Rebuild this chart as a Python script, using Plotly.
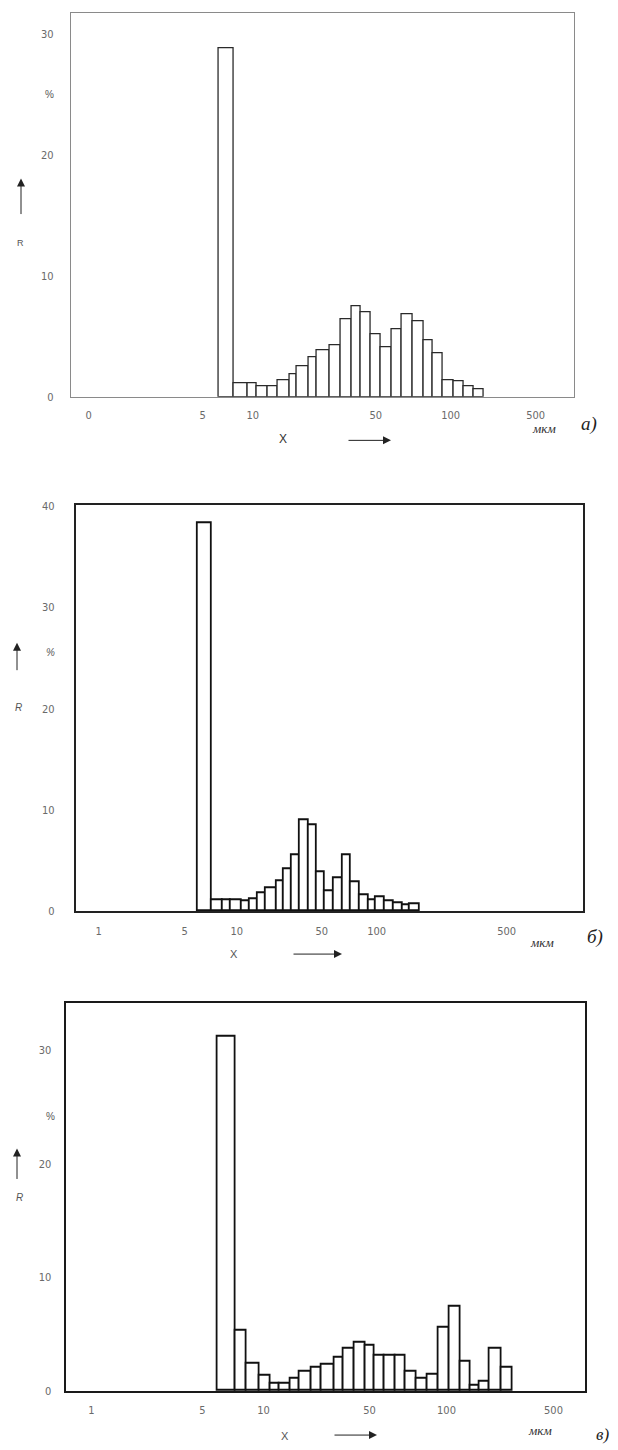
import plotly.graph_objects as go

W, H = 618, 1450

# ---------------- data ----------------
# Bin edges are positions along each panel's (non-uniform, quasi-log) size axis
a_edges = [148, 163, 177, 186, 197, 207, 219, 226, 238, 246, 259, 270, 281, 290,
           300, 310, 321, 331, 342, 353, 362, 372, 383, 393, 403, 413]
a_values = [28.8, 1.12, 1.12, 0.9, 0.9, 1.39, 1.86, 2.54, 3.25, 3.88, 4.28, 6.4,
            7.46, 7.0, 5.2, 4.07, 5.55, 6.85, 6.2, 4.7, 3.6, 1.4, 1.27, 0.9, 0.6]
a_tick_pos = [18, 132, 182, 305, 380, 465]
a_tick_labels = ["0", "5", "10", "50", "100", "500"]
a_y_ticks = [0, 10, 20, 30]

b_edges = [122, 136, 147, 155, 166, 174, 182, 190, 201, 208, 216, 224, 233, 241,
           249, 258, 267, 275, 284, 293, 300, 309, 318, 327, 334, 344]
b_values = [38.3, 1.14, 1.14, 1.14, 0.98, 1.2, 1.79, 2.28, 3.0, 4.17, 5.54, 8.97,
            8.48, 3.91, 1.96, 3.26, 5.54, 2.94, 1.63, 1.08, 1.43, 0.98, 0.82, 0.59, 0.68]
b_tick_pos = [23, 109, 161, 246, 301, 431]
b_tick_labels = ["1", "5", "10", "50", "100", "500"]
b_y_ticks = [0, 10, 20, 30, 40]

c_edges = [152, 170, 181, 194, 205, 214, 225, 234, 246, 256, 269, 278, 289, 300,
           309, 319, 330, 340, 351, 362, 373, 384, 395, 405, 414, 424, 436, 447]
c_values = [31.2, 5.33, 2.42, 1.34, 0.67, 0.67, 1.11, 1.75, 2.04, 2.36, 2.91, 3.73,
            4.31, 3.96, 3.09, 3.09, 3.09, 1.69, 1.11, 1.46, 5.62, 7.42, 2.56, 0.52,
            0.82, 3.73, 2.04]
c_tick_pos = [26, 137, 198, 304, 381, 488]
c_tick_labels = ["1", "5", "10", "50", "100", "500"]
c_y_ticks = [0, 10, 20, 30]

panel_letters = ["а)", "б)", "в)"]

# ---------------- layout geometry (pixels) ----------------
panels = [
    dict(edges=a_edges, values=a_values, tpos=a_tick_pos, tlab=a_tick_labels, yt=a_y_ticks,
         left=70.7, right=574, top=8.3, bottom=395, ymax=31.7, frame="#8a8a8a", fw=1.0,
         bar="#2a2a2a", bw=1.3, ystand=14),
    dict(edges=b_edges, values=b_values, tpos=b_tick_pos, tlab=b_tick_labels, yt=b_y_ticks,
         left=75.7, right=583.3, top=504.3, bottom=914, ymax=40.1, frame="#222222", fw=2.0,
         bar="#111111", bw=1.8, ystand=17),
    dict(edges=c_edges, values=c_values, tpos=c_tick_pos, tlab=c_tick_labels, yt=c_y_ticks,
         left=65.5, right=585, top=1006, bottom=1397.7, ymax=34.2, frame="#1a1a1a", fw=2.0,
         bar="#111111", bw=1.8, ystand=10),
]

fig = go.Figure()
tick_font = dict(family="Liberation Sans Narrow, DejaVu Sans Condensed, Roboto Condensed, sans-serif",
                 size=11, color="#6a6a6a")

for i, p in enumerate(panels, start=1):
    xa = "x" if i == 1 else f"x{i}"
    ya = "y" if i == 1 else f"y{i}"
    e = p["edges"]
    widths = [e[k + 1] - e[k] for k in range(len(e) - 1)]
    fig.add_trace(go.Bar(
        x=e[:-1], y=p["values"], width=widths, offset=0,
        marker=dict(color="white", line=dict(color=p["bar"], width=p["bw"])),
        xaxis=xa, yaxis=ya, showlegend=False, hoverinfo="skip"))
    width = p["right"] - p["left"]
    xkey = "xaxis" if i == 1 else f"xaxis{i}"
    ykey = "yaxis" if i == 1 else f"yaxis{i}"
    fig.update_layout({
        xkey: dict(domain=[p["left"] / W, p["right"] / W], range=[0, width],
                   anchor=ya, showgrid=False, zeroline=False, showline=True,
                   mirror=True, linecolor=p["frame"], linewidth=p["fw"],
                   tickmode="array", tickvals=p["tpos"], ticktext=p["tlab"],
                   ticks="", tickfont=tick_font, ticklabelstandoff=8, fixedrange=True),
        ykey: dict(domain=[1 - p["bottom"] / H, 1 - p["top"] / H], range=[0, p["ymax"]],
                   anchor=xa, showgrid=False, zeroline=False, showline=True,
                   mirror=True, linecolor=p["frame"], linewidth=p["fw"],
                   tickmode="array", tickvals=p["yt"], ticks="", tickfont=tick_font,
                   ticklabelstandoff=p["ystand"], fixedrange=True),
    })

# ---------------- annotations ----------------
def px(x, y):
    return x / W, 1 - y / H

ann = []
def text(x, y, s, size=11, family="Liberation Sans Narrow, sans-serif", color="#555555"):
    xx, yy = px(x, y)
    ann.append(dict(x=xx, y=yy, xref="paper", yref="paper", text=s, showarrow=False,
                    xanchor="center", yanchor="middle",
                    font=dict(size=size, family=family, color=color)))

def arrow(xt, yt, xtail, ytail):
    xx, yy = px(xt, yt)
    ann.append(dict(x=xx, y=yy, xref="paper", yref="paper", text="", showarrow=True,
                    ax=xtail - xt, ay=ytail - yt, arrowhead=2, arrowsize=1.6,
                    arrowwidth=1, arrowcolor="#222222"))

serif_it = "Liberation Serif, serif"

# panel а
text(49, 90, "%", 10)
text(20, 240, "R", 9)
arrow(21, 175, 21, 212)
text(283, 438, "X", 12, color="#333333")
arrow(391, 439, 347, 439)
text(544, 427, "<i>мкм</i>", 13, serif_it, "#333333")
text(589, 423, f"<i>{panel_letters[0]}</i>", 19, serif_it, "#222222")

# panel б
text(50, 653, "<i>%</i>", 10)
text(18, 708, "<i>R</i>", 10)
arrow(17, 643, 17, 672)
text(234, 957, "X", 11)
arrow(342, 957, 292, 957)
text(542, 945, "<i>мкм</i>", 13, serif_it, "#333333")
text(595, 940, f"<i>{panel_letters[1]}</i>", 19, serif_it, "#222222")

# panel в
text(50, 1121, "%", 10)
text(19, 1202, "<i>R</i>", 10)
arrow(17, 1153, 17, 1185)
text(285, 1443, "X", 11)
arrow(377, 1442, 333, 1442)
text(540, 1437, "<i>мкм</i>", 13, serif_it, "#333333")
text(602, 1441, f"<i>{panel_letters[2]}</i>", 17, serif_it, "#222222")

fig.update_layout(width=W, height=H, margin=dict(l=0, r=0, t=0, b=0),
                  paper_bgcolor="white", plot_bgcolor="white", bargap=0,
                  annotations=ann)

fig.write_html("out.html", config={"displayModeBar": False},
               post_script="document.body.style.margin='0';document.body.style.overflow='hidden';")
